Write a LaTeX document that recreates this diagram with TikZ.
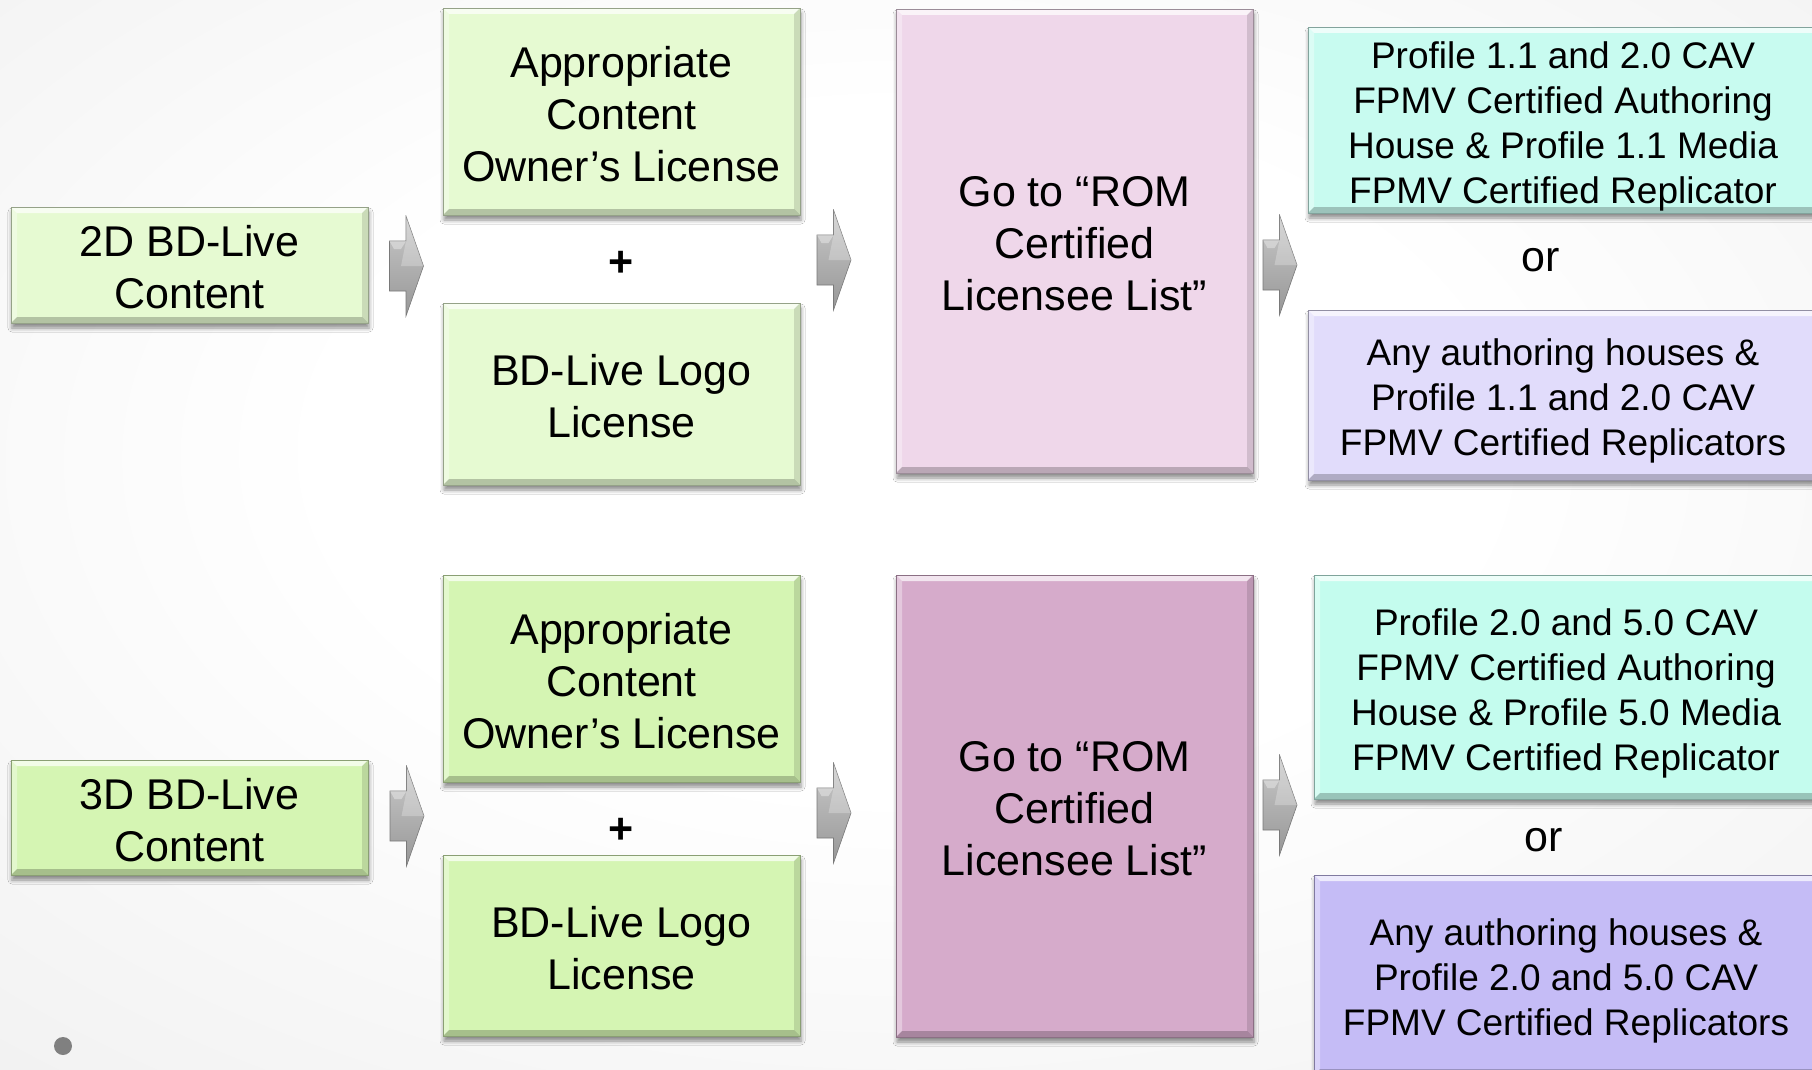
\documentclass[tikz,border=0pt]{standalone}
\usepackage{fontspec}
\setmainfont{Liberation Sans}
\usetikzlibrary{shadows.blur,calc}
\definecolor{grnA}{HTML}{E6FAD2}
\definecolor{grnB}{HTML}{D5F5B3}
\definecolor{pnkA}{HTML}{EFD7EA}
\definecolor{pnkB}{HTML}{D6ABCB}
\definecolor{cyA}{HTML}{C8FBF0}
\definecolor{cyB}{HTML}{C4FCEE}
\definecolor{lavA}{HTML}{E1DCFB}
\definecolor{lavB}{HTML}{C5BCF6}
\definecolor{bgmid}{HTML}{EDEDED}
\definecolor{bgedge}{HTML}{DADADA}
\definecolor{arrL}{HTML}{C9C9C9}
\definecolor{arrD}{HTML}{979797}
\definecolor{dotgray}{HTML}{808080}
\pgfdeclareradialshading{bgshade}{\pgfpoint{0bp}{5bp}}{color(0bp)=(white); color(16bp)=(white); color(45bp)=(bgmid); color(75bp)=(bgedge)}
\newcommand\topstrut[1]{\rule{0pt}{#1}}
\tikzset{
  bigtxt/.style={font=\fontsize{43}{52}\selectfont},
  smtxt/.style={font=\fontsize{37}{45}\selectfont},
  bx/.style={fill=#1, draw=#1!65!black, line width=0.8pt, inner sep=0pt, align=center,
    blur shadow={shadow xshift=1pt, shadow yshift=-5pt, shadow blur radius=4pt, shadow opacity=45},
    path picture={
      \path (path picture bounding box.north west) coordinate (q1)
            (path picture bounding box.north east) coordinate (q2)
            (path picture bounding box.south east) coordinate (q3)
            (path picture bounding box.south west) coordinate (q4);
      \fill[white,opacity=.7] (q1) -- (q2) -- ([shift={(-6pt,-6pt)}]q2) -- ([shift={(6pt,-6pt)}]q1) -- cycle;
      \fill[white,opacity=.35] (q1) -- (q4) -- ([shift={(6pt,6pt)}]q4) -- ([shift={(6pt,-6pt)}]q1) -- cycle;
      \fill[black,opacity=.12] (q2) -- (q3) -- ([shift={(-6pt,6pt)}]q3) -- ([shift={(-6pt,-6pt)}]q2) -- cycle;
      \fill[black,opacity=.22] (q4) -- (q3) -- ([shift={(-6pt,6pt)}]q3) -- ([shift={(6pt,6pt)}]q4) -- cycle;
    }},
  blkarrow/.style={rectangle, inner sep=0pt, minimum width=35pt, minimum height=102pt,
    path picture={
      \path (path picture bounding box.west) coordinate (w)
            (path picture bounding box.east) coordinate (e);
      \shade[top color=arrL, bottom color=arrD, draw=arrD!80!black, line width=0.6pt]
        ([shift={(0.5pt,25pt)}]w) -- ([shift={(17pt,25pt)}]w) -- ([shift={(17pt,50pt)}]w) --
        ([shift={(-0.5pt,0pt)}]e) -- ([shift={(17pt,-50pt)}]w) -- ([shift={(17pt,-25pt)}]w) --
        ([shift={(0.5pt,-25pt)}]w) -- cycle;
      \fill[white,opacity=.35] ([shift={(0.5pt,25pt)}]w) -- ([shift={(17pt,25pt)}]w) -- ([shift={(12pt,17pt)}]w) -- ([shift={(5pt,17pt)}]w) -- cycle;
      \fill[white,opacity=.25] ([shift={(17pt,50pt)}]w) -- ([shift={(-0.5pt,0pt)}]e) -- ([shift={(12pt,0pt)}]w) -- ([shift={(17pt,25pt)}]w) -- cycle;
    }}
}
\begin{document}
\begin{tikzpicture}[x=1pt,y=-1pt]
\useasboundingbox (0,0) rectangle (1812,1070);
\shade[shading=bgshade] (0,0) rectangle (1812,1070);

% ---- row 1 ----
\node[bx=grnA, bigtxt, minimum width=357pt, minimum height=116pt] (c2d) at (189.5,265) {\topstrut{36pt}2D BD-Live\\Content};
\node[bx=grnA, bigtxt, minimum width=357pt, minimum height=207pt] (own1) at (621.5,111.5) {\topstrut{36pt}Appropriate\\Content\\Owner’s License};
\node[font=\fontsize{43}{52}\selectfont\bfseries] (plus1) at (621.5,264) {+};
\node[bx=grnA, bigtxt, minimum width=357pt, minimum height=182pt] (logo1) at (621.5,394) {\topstrut{36pt}BD-Live Logo\\License};
\node[bx=pnkA, bigtxt, minimum width=357pt, minimum height=464pt] (rom1) at (1074.5,241) {\topstrut{36pt}Go to “ROM\\Certified\\Licensee List”};
\node[bx=cyA, smtxt, minimum width=510pt, minimum height=186pt] (cav1) at (1563,120) {\topstrut{39pt}Profile 1.1 and 2.0 CAV\\FPMV Certified Authoring\\House \& Profile 1.1 Media\\FPMV Certified Replicator};
\node[bigtxt] (or1) at (1541,260) {or};
\node[bx=lavA, smtxt, minimum width=510pt, minimum height=170pt] (rep1) at (1563,395) {\topstrut{39pt}Any authoring houses \&\\Profile 1.1 and 2.0 CAV\\FPMV Certified Replicators};

\node[blkarrow] (a1) at (406.5,266) {};
\node[blkarrow] (a2) at (834,260) {};
\node[blkarrow] (a3) at (1280,265) {};

% ---- row 2 ----
\node[bx=grnB, bigtxt, minimum width=357pt, minimum height=115pt] (c3d) at (189.5,817.5) {\topstrut{36pt}3D BD-Live\\Content};
\node[bx=grnB, bigtxt, minimum width=357pt, minimum height=207pt] (own2) at (621.5,678.5) {\topstrut{36pt}Appropriate\\Content\\Owner’s License};
\node[font=\fontsize{43}{52}\selectfont\bfseries] (plus2) at (621.5,831) {+};
\node[bx=grnB, bigtxt, minimum width=357pt, minimum height=181pt] (logo2) at (621.5,945.5) {\topstrut{36pt}BD-Live Logo\\License};
\node[bx=pnkB, bigtxt, minimum width=357pt, minimum height=462pt] (rom2) at (1074.5,806) {\topstrut{36pt}Go to “ROM\\Certified\\Licensee List”};
\node[bx=cyB, smtxt, minimum width=504pt, minimum height=224pt] (cav2) at (1566,687) {\topstrut{39pt}Profile 2.0 and 5.0 CAV\\FPMV Certified Authoring\\House \& Profile 5.0 Media\\FPMV Certified Replicator};
\node[bigtxt] (or2) at (1544,840) {or};
\node[bx=lavB, smtxt, minimum width=504pt, minimum height=200pt] (rep2) at (1566,975) {\topstrut{39pt}Any authoring houses \&\\Profile 2.0 and 5.0 CAV\\FPMV Certified Replicators};

\node[blkarrow] (b1) at (407,816) {};
\node[blkarrow] (b2) at (834,813) {};
\node[blkarrow] (b3) at (1280,805) {};

\node[circle, fill=dotgray, inner sep=0pt, minimum size=18pt] (dot) at (63,1046) {};
\end{tikzpicture}
\end{document}
